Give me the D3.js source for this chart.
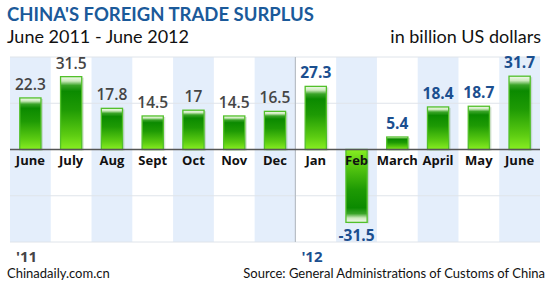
<!DOCTYPE html>
<html><head><meta charset="utf-8">
<script src="https://cdn.jsdelivr.net/npm/d3@7"></script>
<style>body{margin:0;background:#fff}svg{display:block}</style>
</head><body>
<script>
const months = ["June","July","Aug","Sept","Oct","Nov","Dec","Jan","Feb","March","April","May","June"];
const years = ["2011","2011","2011","2011","2011","2011","2011","2012","2012","2012","2012","2012","2012"];
const values = [22.3,31.5,17.8,14.5,17,14.5,16.5,27.3,-31.5,5.4,18.4,18.7,31.7];
const gridTicks = [-40,-20,0,20,40];
const yearLabels = [{label:"'11", year:"2011", at:0},{label:"'12", year:"2012", at:7}];

const W=550,H=286;
const svg=d3.select("body").append("svg").attr("width",W).attr("height",H);
const font="Lato, 'Open Sans', sans-serif";
const font2="'Open Sans', Lato, sans-serif";
const blue="#1b4f8f", gray="#454545";

const x=d3.scaleBand().domain(d3.range(months.length)).range([10,540]);
const y=d3.scaleLinear().domain([-40,40]).range([242,57]);
const bw=x.bandwidth()*0.52;

const defs=svg.append("defs");
function grad(id,flip){
  const g=defs.append("linearGradient").attr("id",id).attr("x1",0).attr("x2",0)
    .attr("y1",flip?1:0).attr("y2",flip?0:1);
  [[0,"#f2faee"],[0.06,"#cdeabd"],[0.12,"#3aa428"],[0.2,"#0b8a00"],[0.45,"#1e9a04"],[0.8,"#5ccc12"],[1,"#88ee22"]]
   .forEach(([o,c])=>g.append("stop").attr("offset",o).attr("stop-color",c));
}
grad("gpos",false);grad("gneg",true);

// bands
svg.selectAll(".band").data(d3.range(months.length).filter(i=>i%2===0)).join("rect")
  .attr("x",i=>x(i)).attr("width",x.bandwidth()).attr("y",y(40)).attr("height",y(-40)-y(40))
  .attr("fill","#e4eefb");
// grid
svg.selectAll(".grid").data(gridTicks.filter(t=>t!==0)).join("line")
  .attr("x1",10).attr("x2",540).attr("y1",d=>y(d)).attr("y2",d=>y(d))
  .attr("stroke","#dfe4ea").attr("stroke-width",1);
// divider
svg.append("line").attr("x1",x(7)).attr("x2",x(7)).attr("y1",y(40)).attr("y2",y(-40))
  .attr("stroke","#b8bec6").attr("stroke-width",1.2);

// bar shadows
svg.selectAll(".sh").data(values).join("rect")
  .attr("x",(d,i)=>x(i)+(x.bandwidth()-bw)/2+2).attr("width",bw)
  .attr("y",d=>Math.min(y(d),y(0))+1).attr("height",d=>Math.abs(y(d)-y(0)))
  .attr("fill","#8fb08a").attr("opacity",0.35);
// bars
svg.selectAll(".bar").data(values).join("rect")
  .attr("x",(d,i)=>x(i)+(x.bandwidth()-bw)/2).attr("width",bw)
  .attr("y",d=>Math.min(y(d),y(0))).attr("height",d=>Math.abs(y(d)-y(0)))
  .attr("fill",d=>d<0?"url(#gneg)":"url(#gpos)")
  .attr("stroke","#52c02a").attr("stroke-width",1.3);

// baseline
svg.append("line").attr("x1",10).attr("x2",540).attr("y1",y(0)).attr("y2",y(0))
  .attr("stroke","#555").attr("stroke-width",1.5);

// value labels
svg.selectAll(".val").data(values).join("text")
  .attr("x",(d,i)=>x(i)+x.bandwidth()/2)
  .attr("y",(d,i)=>d<0?y(d)+18.5:y(d)-8)
  .attr("text-anchor","middle")
  .attr("font-family",font2)
  .attr("font-weight",(d,i)=>years[i]==="2012"?700:600)
  .attr("font-size",15.5).attr("fill",(d,i)=>years[i]==="2012"?blue:gray)
  .text(d=>d);
// month labels
svg.selectAll(".mon").data(months).join("text")
  .attr("x",(d,i)=>x(i)+x.bandwidth()/2).attr("y",y(0)+15.5)
  .attr("text-anchor","middle").attr("font-family",font2).attr("font-weight","bold")
  .attr("font-size",13).attr("fill","#111").text(d=>d);
// year labels
svg.selectAll(".yr").data(yearLabels).join("text")
  .attr("x",d=>x(d.at)+6).attr("y",262)
  .attr("font-family",font2).attr("font-weight","bold").attr("font-size",15)
  .attr("fill",d=>d.year==="2012"?blue:gray).text(d=>d.label);

// titles
svg.append("text").attr("x",7).attr("y",21).attr("font-family",font).attr("font-weight","bold")
  .attr("font-size",18.5).attr("fill","#1b5a9a").text("CHINA'S FOREIGN TRADE SURPLUS");
svg.append("text").attr("x",7).attr("y",43).attr("font-family",font)
  .attr("font-size",18).attr("fill","#111").text("June 2011 - June 2012");
svg.append("text").attr("x",541).attr("y",43).attr("text-anchor","end").attr("font-family",font)
  .attr("font-size",18).attr("fill","#111").text("in billion US dollars");
svg.append("text").attr("x",7).attr("y",278).attr("font-family",font)
  .attr("font-size",13).attr("fill","#111").text("Chinadaily.com.cn");
svg.append("text").attr("x",545).attr("y",278).attr("text-anchor","end").attr("font-family",font)
  .attr("font-size",13).attr("fill","#111").text("Source: General Administrations of Customs of China");
</script>
</body></html>
